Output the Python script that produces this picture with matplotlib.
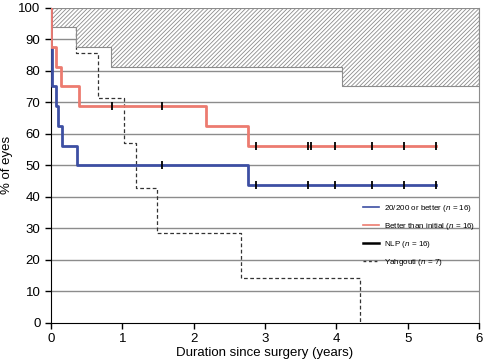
import matplotlib
matplotlib.use('Agg')
import matplotlib.pyplot as plt
from matplotlib.lines import Line2D

plt.rcParams['font.family'] = ['Liberation Sans', 'DejaVu Sans']
plt.rcParams['mathtext.fontset'] = 'custom'
plt.rcParams['mathtext.it'] = 'Liberation Sans:italic'
plt.rcParams['mathtext.rm'] = 'Liberation Sans'
plt.rcParams['hatch.linewidth'] = 0.6
plt.rcParams['hatch.color'] = '#5a5a5a'

# Kaplan-Meier step curves (time in years, % of eyes)
blue_t = [0, 0.001, 0.02, 0.07, 0.10, 0.15, 0.37, 2.76, 5.40]
blue_s = [100, 87.5, 75, 68.75, 62.5, 56.25, 50, 43.75, 43.75]
blue_cens_t = [1.56, 2.88, 3.60, 3.98, 4.50, 4.94, 5.40]
blue_cens_s = [50, 43.75, 43.75, 43.75, 43.75, 43.75, 43.75]

red_t = [0, 0.001, 0.07, 0.14, 0.39, 2.17, 2.76, 5.40]
red_s = [100, 87.5, 81.25, 75, 68.75, 62.5, 56.25, 56.25]
red_cens_t = [0.86, 1.56, 2.88, 3.60, 3.64, 3.98, 4.50, 4.94, 5.40]
red_cens_s = [68.75, 68.75, 56.25, 56.25, 56.25, 56.25, 56.25, 56.25, 56.25]

nlp_t = [0, 0.005, 0.35, 0.84, 4.08, 6.0]
nlp_s = [100, 93.75, 87.5, 81.25, 75, 75]

yah_t = [0, 0.35, 0.66, 1.02, 1.19, 1.49, 2.66, 4.33, 4.33]
yah_s = [100, 85.7, 71.4, 57.1, 42.9, 28.6, 14.3, 0, 0]

blue = '#3d4fa3'
red = '#ec7b70'

fig = plt.figure(figsize=(4.85, 3.6), dpi=100)
ax = fig.add_axes([0.105, 0.103, 0.883, 0.876])

for yv in range(10, 100, 10):
    ax.axhline(yv, color='#8c8c8c', lw=1.0, zorder=0)

ax.step(yah_t, yah_s, where='post', color='#333333', lw=0.9, ls=(0, (3, 2)), zorder=1)

ax.fill_between(nlp_t, nlp_s, 100, step='post', facecolor='white',
                edgecolor='#8c8c8c', hatch='////////', lw=0.8, zorder=2)

ax.step(blue_t, blue_s, where='post', color=blue, lw=2.0, zorder=3)
ax.step(red_t, red_s, where='post', color=red, lw=2.0, zorder=4)
ax.plot(blue_cens_t, blue_cens_s, ls='none', marker='|', color='black', ms=6, mew=1.3, zorder=5)
ax.plot(red_cens_t, red_cens_s, ls='none', marker='|', color='black', ms=6, mew=1.3, zorder=5)

ax.set_xlim(0, 6)
ax.set_ylim(0, 100)
ax.set_xticks(range(0, 7))
ax.set_yticks(range(0, 101, 10))
ax.tick_params(labelsize=9.5, length=4, width=1, direction='out')
ax.spines['right'].set_color('#8c8c8c')
ax.spines['top'].set_visible(False)
ax.set_xlabel('Duration since surgery (years)', fontsize=9.5, labelpad=1)
ax.set_ylabel('% of eyes', fontsize=9.5)

handles = [
    Line2D([], [], color=blue, lw=1.2),
    Line2D([], [], color=red, lw=1.2),
    Line2D([], [], color='black', lw=1.8),
    Line2D([], [], color='#333333', lw=1.0, ls=(0, (2, 2))),
]
labels = [r'20/200 or better ($n$ = 16)', r'Better than initial ($n$ = 16)',
          r'NLP ($n$ = 16)', r'Yahgouti ($n$ = 7)']
ax.legend(handles, labels, loc='upper left', bbox_to_anchor=(0.722, 0.39),
          frameon=False, fontsize=5.8, handlelength=2.0, handletextpad=0.6,
          labelspacing=0.85, borderaxespad=0)

fig.savefig('out.png', dpi=100)
